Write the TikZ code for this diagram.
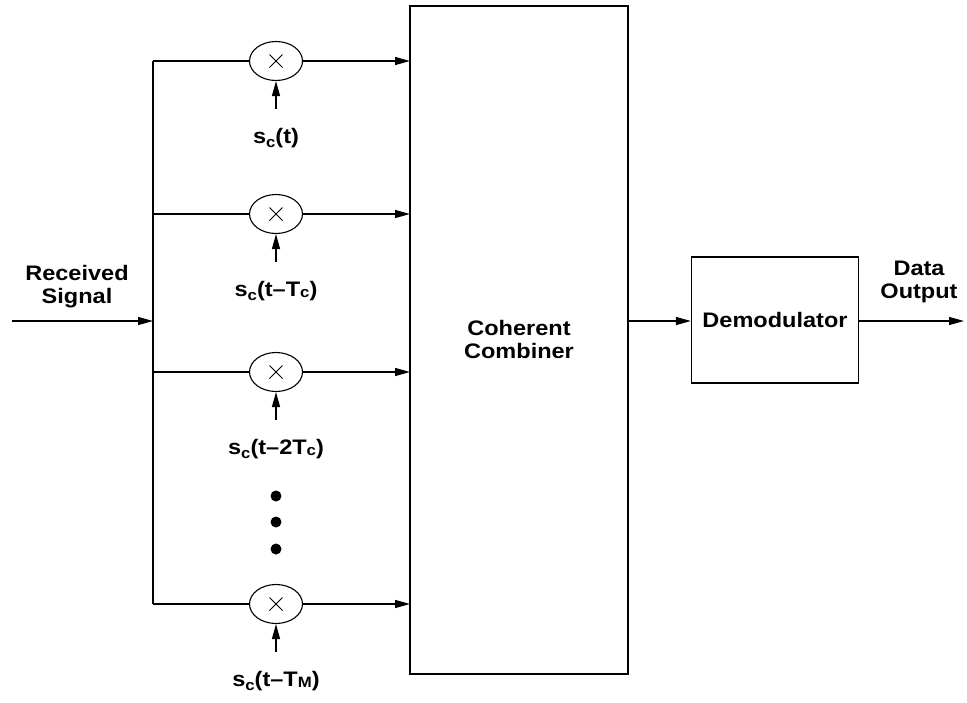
\documentclass[tikz,border=0pt]{standalone}
\usepackage{fontspec}
\setmainfont{Liberation Sans}[FakeStretch=1.12]
\usetikzlibrary{arrows.meta,shapes.geometric}
\tikzset{
  wire/.style={line width=1.3pt},
  arr/.style={wire,-{Triangle[length=15pt,width=8pt]}},
  mult/.style={draw,line width=1.1pt,ellipse,minimum width=53pt,minimum height=39pt,inner sep=0pt},
  blk/.style={draw,line width=1.3pt,inner sep=0pt},
  lbl/.style={font=\fontsize{21}{23}\selectfont\bfseries,align=center},
  dotnode/.style={circle,fill=black,minimum size=11pt,inner sep=0pt},
  cross/.style={line width=0.9pt}
}
\newcommand{\sub}[1]{\raisebox{-0.4ex}{\fontsize{15}{15}\selectfont #1}}
\newcommand{\tsub}[1]{\raisebox{-0.15ex}{\fontsize{15}{15}\selectfont #1}}
\begin{document}
\begin{tikzpicture}[x=1pt,y=-1pt]
\useasboundingbox (0,0) rectangle (967,702);
% combiner and demodulator
\node[blk,minimum width=218pt,minimum height=668pt] (comb) at (519,340) {};
\node[lbl] (combtxt) at (519,339) {Coherent\\Combiner};
\node[blk,minimum width=167pt,minimum height=126pt,lbl] (demod) at (775,320) {Demodulator};
% bus
\coordinate (busT) at (153,61);
\coordinate (busB) at (153,604);
\coordinate (busIn) at (153,321);
\coordinate (inStart) at (12,321);
\draw[wire] (busT) -- (busB);
\draw[arr] (inStart) -- (busIn);
\node[lbl] (rx) at (77,287) {Received\\Signal};
% branches
\foreach \n/\y/\t in {1/61/{s\sub{c}(t)},2/214/{s\sub{c}(t–T\tsub{c})},3/372/{s\sub{c}(t–2T\tsub{c})},4/604/{s\sub{c}(t–T\tsub{M})}}{
  \coordinate (b\n) at (153,\y);
  \node[mult] (m\n) at (276,\y) {};
  \draw[cross] ([shift={(-6.5,-6.5)}]m\n.center) -- ([shift={(6.5,6.5)}]m\n.center);
  \draw[cross] ([shift={(-6.5,6.5)}]m\n.center) -- ([shift={(6.5,-6.5)}]m\n.center);
  \coordinate (e\n) at (410,\y);
  \coordinate (u\n) at (276,\y+48);
  \draw[wire] (b\n) -- (m\n);
  \draw[arr] (m\n) -- (e\n);
  \draw[arr] (u\n) -- (m\n.south);
  \node[lbl] (s\n) at (276,\y+77) {\t};
}
% dots
\node[dotnode] (d1) at (276,496) {};
\node[dotnode] (d2) at (276,522) {};
\node[dotnode] (d3) at (276,549) {};
% output
\coordinate (cOut) at (628,321);
\draw[arr] (cOut) -- (demod.west|-cOut);
\coordinate (outEnd) at (964,321);
\draw[arr] (demod.east|-cOut) -- (outEnd);
\node[lbl] (dout) at (919,282) {Data\\Output};
\end{tikzpicture}
\end{document}
